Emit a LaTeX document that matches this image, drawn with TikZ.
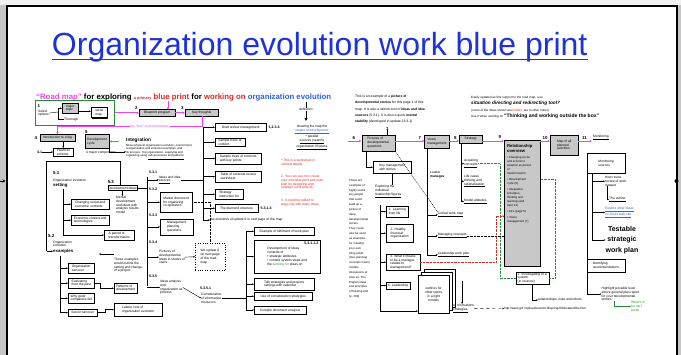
\documentclass[tikz,border=0pt]{standalone}
\usepackage{fontspec}
\setmainfont{Liberation Sans}
\newfontfamily\tf{Liberation Sans}
\usetikzlibrary{arrows.meta,shadows}
\definecolor{ttl}{RGB}{30,50,220}
\definecolor{mag}{RGB}{235,70,235}
\definecolor{gbox}{RGB}{200,200,200}
\definecolor{dgreen}{RGB}{40,140,50}
\definecolor{rtxt}{RGB}{220,40,40}
\definecolor{btxt}{RGB}{40,100,230}
\newcommand\tzs{\tf\fontsize{3.3}{3.8}\selectfont}
\newcommand\nzs{\tf\bfseries\fontsize{4.4}{4.7}\selectfont}
\newcommand\nzz{\tf\bfseries\fontsize{3.6}{4}\selectfont}
\tikzset{
 bx/.style={draw, line width=0.4pt, fill=white, inner sep=0.5pt, anchor=north west, font=\tzs, align=left,
   drop shadow={shadow xshift=0.9pt, shadow yshift=-0.9pt, fill=black, opacity=0.95}},
 gbx/.style={bx, fill=gbox},
 tx/.style={inner sep=0pt, anchor=north west, font=\tzs, align=left},
 nm/.style={inner sep=0pt, anchor=south west, font=\nzs},
 nms/.style={inner sep=0pt, anchor=south west, font=\nzz},
 ln/.style={line width=0.4pt},
 ar/.style={line width=0.4pt, -{Stealth[length=1.8pt,width=1.5pt]}},
 mg/.style={line width=0.9pt, draw=mag},
 mgar/.style={mg, -{Stealth[length=2.6pt,width=2.4pt]}},
 dt/.style={line width=0.4pt, densely dotted},
}
\begin{document}
\begin{tikzpicture}[x=1pt,y=-1pt]
\useasboundingbox (0,0) rectangle (681,355);
% ---------- slide frame ----------
\fill[gray!45] (0,0) rectangle (681,355);
\fill[gray!12] (0,0) rectangle (681,5);
\fill[white] (7,7) rectangle (675.5,355);
\draw[line width=2pt] (7,355) -- (7,6) -- (676.5,6) -- (676.5,355);
\coordinate (la0) at (0,181); \coordinate (la1) at (5.5,181);
\draw[line width=0.8pt,-{Stealth[length=3pt,width=3pt]}] (la0) -- (la1);
\fill (676.5,181) circle (2);
% ---------- title ----------
\node[anchor=base west, inner sep=0, text=ttl, font=\fontsize{32}{38}\selectfont] (title) at (51.8,56) {Organization evolution work blue print};
\draw[ttl, line width=1.3pt] ([yshift=-3.2pt]title.base west) -- ([yshift=-3.2pt]title.base east);

% ================= LEFT THUMBNAIL =================
\node[anchor=base west, inner sep=0] (lhead) at (36,99.3) {\resizebox{295pt}{!}{\tf\bfseries{\color{mag}“Road map”} for exploring {\color{rtxt}\fontsize{5}{5}\selectfont a primary} {\color{rtxt}blue print} for {\color{rtxt}working on} {\color{btxt}organization evolution}}};
\node[draw=dgreen, line width=0.6pt, minimum width=79, minimum height=25, anchor=north west, inner sep=0] (G) at (35,100.5) {};
\node[nm] (n1) at (37.5,108) {1};
\node[tx] (gsel) at (38,109.5) {Select\\ options};
\node[gbx, minimum width=16, minimum height=10] (mt) at (62,103) {major\\ topic};
\node[bx, minimum width=16, minimum height=10] (sm) at (91,107.5) {serial\\ map};
\node[tx] (gthr) at (64,117.5) {Thorough};
\coordinate (gb) at (58,112);
\draw[ln] (gsel.east) -- (gb);
\draw[ar] (gb) |- (mt.west);
\draw[ln] (gb) |- (gthr.west);
\draw[ar] ([yshift=-3pt]mt.east) -- ([yshift=-3pt]mt.east -| sm.west);
\node[gbx, minimum width=36, minimum height=6.5] (b2) at (139,109.5) {Blueprint program};
\node[nm] (n2) at (135,110) {2};
\node[gbx, minimum width=33, minimum height=6.5] (b3) at (185,109.5) {Key thoughts};
\node[nm] (n3) at (181,110) {3};
\draw[mgar] (G.east |- b2.west) -- (b2.west);
\draw[mgar] (b2.east) -- (b3.west);
\coordinate (mh) at (168,101);
\draw[mgar] (mh) -- (mh |- b2.north);
\node[gbx, minimum width=34.5, minimum height=6.5] (b4) at (40,134.5) {Introduction to a big};
\node[nm] (n4) at (34.5,140) {4};
\coordinate (mt1) at (202,126);
\draw[mgar] (b3.south -| mt1) -- (mt1) -| (b4.north);
\node[font=\tzs, text=mag, inner sep=0.5pt, fill=white] (tour) at (150,126) {the “tour” recommendation};
\node[gbx, minimum width=24.5, minimum height=13.5] (b5) at (84.5,134.5) {Development\\ cycle};
\node[nm] (n5) at (85,133.5) {5};
\coordinate (m5) at (119,141.5);
\draw[mgar] (m5) -- (b5.east);
\node[tx, font=\tf\bfseries\fontsize{4.8}{5}\selectfont] (integ) at (126,138) {Integration};
\node[tx, font=\tf\fontsize{2.9}{3.5}\selectfont] (integt) at (126,144) {Mixes physical organization evolution, environment,\\ reorganization and evolution examples, and\\ its process. Top organization, supplying and\\ organizing using \underline{sub-processes and patterns}};
\draw[ar] (b5.south east) |- (integt.west);
\node[bx, minimum width=20, minimum height=8] (b41) at (53,148) {Practical\\ scheme};
\node[inner sep=0, font=\nzz, anchor=west] (n41) at (37,152) {4.1};
\draw[ar] (n41.east) -- (n41.east -| b41.west);
\draw[ar] (b4.south -| b41.north) -- (b41.north);
\node[tx] (comp) at (86,150.5) {4 major components};
% bracket
\coordinate (lb1) at (46.5,161); \coordinate (lb2) at (120.5,161); \coordinate (lb3) at (46.5,251.2);
% 5.1
\node[nm] (n51) at (53,175) {5.1};
\node[tx] (o51) at (53,178.5) {Organization evolution};
\node[tx, font=\tf\bfseries\fontsize{4.4}{5}\selectfont] (set) at (53,183.2) {setting};
\coordinate (s0) at (63,189.5); \coordinate (s1) at (63,235);
\node[bx, minimum width=38, minimum height=10] (c1) at (71,199) {Changing social and\\ economic contexts};
\node[bx, minimum width=38, minimum height=10] (c2) at (71,215) {Economic context and\\ technologies};
\node[bx, minimum width=30, minimum height=10] (c3) at (104,230) {A period of\\ transformation};
\draw[ln] (s0) -- (s1);
\draw[ar] (s0 |- c1.west) -- (c1.west);
\draw[ar] (s0 |- c2.west) -- (c2.west);
\draw[ar] (s1) -- (s1 -| c3.west);
% 5.2
\node[nm] (n52) at (48,238) {5.2};
\node[tx] (o52) at (53,240.5) {Organization\\ evolution};
\node[tx, font=\tf\bfseries\fontsize{4.4}{5}\selectfont] (ex) at (53,249) {examples};
\draw[ln] (lb3) -- (lb1) -- (lb2);
\draw[ar] (lb3) -- (lb3 -| ex.west);
\coordinate (d0) at (60,256); \coordinate (d1) at (60,312.5);
\node[bx, minimum width=26, minimum height=10] (d1b) at (68,263) {Organization\\ turnover};
\node[bx, minimum width=26, minimum height=10] (d2b) at (68,278) {Evaluating\\ from the past};
\node[bx, minimum width=26, minimum height=10] (d3b) at (68,293) {Why good\\ companies fail};
\node[bx, minimum width=29, minimum height=7] (d4b) at (68,309) {Senior turnover};
\draw[ln] (d0) -- (d1);
\draw[ar] (d0 |- d1b.west) -- (d1b.west);
\draw[ar] (d0 |- d2b.west) -- (d2b.west);
\draw[ar] (d0 |- d3b.west) -- (d3b.west);
\draw[ar] (d0 |- d4b.west) -- (d4b.west);
\node[tx] (etx) at (114,258) {These examples\\ would outline the\\ setting and change\\ of a project};
\coordinate (ea) at (99,254);
\draw[ar] (etx.north west |- ea) -- (ea);
\node[bx, minimum width=23, minimum height=10] (e1) at (114,283) {Patterns of\\ development};
\node[bx, minimum width=48, minimum height=13] (e2) at (114,303) {Labour cost of\\ organization evolution};
\draw[ar] (d2b.east) -- ++(6,0) |- (e1.west);
\draw[ar] (d4b.east) -- ++(8,0) |- (e2.west);
% 5.3
\node[nm] (n53) at (107.6,183.5) {5.3};
\node[draw, line width=0.3pt, inner sep=0.5pt, anchor=north west, font=\tzs, minimum width=28, minimum height=5] (f53) at (107.6,185.5) {Development Ideas};
\draw[ar] (lb2) -- (lb2 |- f53.north);
\node[tx] (ment) at (116,196) {Mental\\ development\\ and ideas with\\ analysis results\\ model};
\draw[ar] (f53.south) -- (f53.south |- ment.north);
\coordinate (k0) at (147,177); \coordinate (k1) at (147,286);
\draw[ln] (f53.east) -- (f53.east -| k0);
\draw[ln] (k0) -- (k1);
\node[nms] (n531) at (149,174) {5.3.1};
\node[tx] (g1) at (158.7,175.5) {Ideas and idea\\ \underline{sources}};
\node[nms] (n532) at (149,191) {5.3.2};
\node[bx, minimum width=31.7, minimum height=20] (g2) at (160,192) {Market document\\ for organizing\\ co-operation};
\node[nms] (n533) at (149,216.5) {5.3.3};
\node[bx, minimum width=33, minimum height=16] (g3) at (160,218.7) {Management\\ planning\\ questions};
\node[nms] (n534) at (149,244) {5.3.4};
\node[tx] (g4) at (159,250) {Pictures of\\ developmental\\ ideas in stories of\\ users};
\node[nms] (n535) at (149,278) {5.3.5};
\node[tx] (g5) at (160,280) {Ideas analysis\\ and\\ organization as\\ process};
\draw[ar] (k0 |- g1.west) -- (g1.west);
\draw[ar] (k0 |- g2.west) -- (g2.west);
\draw[ar] (k0 |- g3.west) -- (g3.west);
\draw[ar] (k0 |- g4.west) -- (g4.west);
\draw[ar] (k0 |- g5.west) -- (g5.west);
\node[draw, dotted, line width=0.4pt, minimum width=30, minimum height=27, anchor=north west, font=\tzs, align=left, inner sep=0.5pt] (h) at (195,243) {We update 6\\ on next page\\ of the road\\ map};
\draw[ar] (g4.east) -- (h.west);
\draw[dt] (g2.east) -| (h.north);
\node[nms] (n5351) at (200,290) {5.3.5.1};
\node[tx] (cons) at (201,293) {Consideration\\ of information\\ resources};
\draw[ar] (g5.east) -- (cons.west);
% right column
\coordinate (r0) at (203,127); \coordinate (r1) at (203,220);
\draw[ln] (r0) -- (r1);
\node[bx, minimum width=51, minimum height=8] (r1b) at (215,123) {Draft review management};
\node[bx, minimum width=29.5, minimum height=8] (r2b) at (215,138) {Sample trees of\\ content};
\node[bx, minimum width=46, minimum height=11.4] (r3b) at (215,152.6) {Sample trees of contents\\ with key points};
\node[bx, minimum width=46, minimum height=11] (r4b) at (215,171) {Table of contents review\\ worksheet};
\node[bx, minimum width=28, minimum height=10] (r5b) at (215,189) {Strategy\\ instruction for};
\node[bx, minimum width=42.7, minimum height=8] (r6b) at (215,204) {The diamond structure};
\draw[ar] (r0 |- r1b.west) -- (r1b.west);
\draw[ar] (r0 |- r2b.west) -- (r2b.west);
\draw[ar] (r0 |- r3b.west) -- (r3b.west);
\draw[ar] (r0 |- r4b.west) -- (r4b.west);
\draw[ar] (r0 |- r5b.west) -- (r5b.west);
\draw[ar] (r0 |- r6b.west) -- (r6b.west);
\node[nms, anchor=west] (n1234) at (268.5,127) {1.2.3.4};
\node[nms, anchor=west] (n5314) at (260.5,208.5) {5.3.1.4};
\node[tx, anchor=west] (elem) at (210,220) {the elements of update 6 in next page of this map};
\draw[ar] (r1) -- (elem.west);
\draw[ln] (g1.east) -- (g1.east -| r0);
% lower right column
\coordinate (s0r) at (246,231); \coordinate (s1r) at (246,310);
\draw[ln] (s0r) -- (s1r);
\node[bx, minimum width=60, minimum height=8] (t1b) at (254,227) {Example of fulfilment of work plan};
\node[bx, minimum width=66, minimum height=33] (t2b) at (254,240) {Development of ideas\\ contexts of\\ • strategic attributes\\ • content system steps and\\ the \textcolor{dgreen}{working for} ideas on};
\node[nms, anchor=north east] (n53112) at (318.5,242) {5.3.1.1.2};
\node[bx, minimum width=60, minimum height=12] (t3b) at (254,278) {Talk strategies and projects\\ settings with calendar};
\node[bx, minimum width=58, minimum height=8] (t4b) at (254,292) {Use of consideration strategies};
\node[bx, minimum width=51.6, minimum height=8] (t5b) at (254,306) {Compile document analysis};
\draw[ar] (s0r |- t1b.west) -- (t1b.west);
\draw[ar] (s0r |- t2b.west) -- (t2b.west);
\draw[ar] (s0r |- t3b.west) -- (t3b.west);
\draw[ar] (s0r |- t4b.west) -- (t4b.west);
\draw[ar] (s1r) -- (s1r -| t5b.west);
\draw[ln] (cons.east) -- (cons.east -| s0r);
% far right notes
\node[tx, anchor=north] (defn) at (306,108) {definition};
\coordinate (dtop) at (306,102); \coordinate (dbot) at (306,121);
\draw[ln] (dtop) -- (defn.north);
\draw[line width=0.7pt, -{Triangle[length=3pt,width=3pt]}] (defn.south) -- (dbot);
\node[tx, anchor=north, align=center] (show) at (312,125) {showing the map the\\ \textcolor{btxt}{\underline{stages of development}}\\ * parallel\\ \underline{sources (search)}\\ \underline{organization fill plans}};
\node[tx, text=rtxt] (red1) at (281,159) {* This is a worksheet in\\ several details};
\node[tx, text=rtxt] (red2) at (281,175) {2. You can use it to create\\ your own blue print and work\\ plan for designing and\\ strategic work plan (6)};
\node[tx, text=rtxt] (red3) at (281,199) {3. It could be edited to\\ ways city with basic ideas};

% ================= RIGHT THUMBNAIL =================
\node[tx, font=\tf\fontsize{3.4}{6.3}\selectfont] (rp1) at (355,95) {This is an example of a \textbf{picture of}\\ \textbf{developmental stories} for this page 1 of this\\ map. It is also a sketch-tool of \textbf{ideas and idea}\\ \textbf{sources} (5.3.1). It is also a quick \textbf{mental}\\ \textbf{stability} (developed in update 13.3.1)};
\node[tx, font=\tf\fontsize{3.1}{6.5}\selectfont] (rp2) at (471,96) {Easily updated as first support to the road map, a so\\ {\bfseries\itshape\fontsize{4.7}{6.5}\selectfont situation directing and redirecting tool?}\\ (some of the ideas shown are \textcolor{rtxt}{hidden}, are in other notes)\\ Use it when working on {\bfseries\fontsize{5}{6.5}\selectfont “Thinking and working outside the box”}};
\coordinate (m0) at (348,141); \coordinate (m1) at (592,141);
\node[gbx, minimum width=33, minimum height=16] (p6) at (361.5,134.7) {Pictures of\\ developmental\\ questions};
\node[gbx, minimum width=24.6, minimum height=13] (p7) at (424.4,134.7) {Vision\\ management};
\node[gbx, minimum width=23, minimum height=8.3] (p8) at (459,134.7) {Strategy};
\node[gbx, minimum width=36, minimum height=126] (p9) at (504,139.6) {};
\node[tx, font=\tf\bfseries\fontsize{4.2}{5}\selectfont] (p9h) at (507,144) {Relationship\\ overview};
\node[tx, font=\tf\fontsize{2.9}{4}\selectfont] (p9t) at (507,156) {• Changing social\\ and economic\\ situation as period\\ of\\ transformation\\[2pt] • Development\\ cycle (5)\\[2pt] • Integration\\ principles,\\ thinking and\\ learning (and\\ topic 11)\\[2pt] • KJ's (page 5)\\[2pt] • Vision\\ management (7)};
\node[gbx, minimum width=28, minimum height=20] (p10) at (550,134.7) {Map of all\\ planned\\ activities};
\node[nm] (n6) at (352.5,139.5) {6};
\node[nm] (n7) at (418.5,139.5) {7};
\node[nm] (n8) at (454,139.5) {8};
\node[nm] (n9) at (498.5,139) {9};
\node[nm] (n10) at (542.5,139.5) {10};
\node[nm] (n11) at (582,139.5) {11};
\node[nm] (n61) at (386,130.5) {1};
\draw[ln] (n61.south) -- (n61.south |- p6.north);
\draw[mgar] (m0) -- (m0 -| p6.west);
\draw[mgar] (p6.east |- m0) -- (m0 -| p7.west);
\draw[mgar] (p7.east |- m0) -- (m0 -| p8.west);
\draw[mgar] (p8.east |- m0) -- (m0 -| p9.west);
\draw[mgar] (p9.east |- m0) -- (m0 -| p10.west);
\draw[mgar] (p10.east |- m0) -- (m1);
\node[tx, anchor=south west] (mon) at (593,140) {\underline{Monitoring}};
% under 6
\coordinate (q0) at (366,151);
\node[bx, minimum width=38, minimum height=12] (q1) at (373,161) {Key management\\ with stories};
\draw[ar] (p6.south -| q0) |- (q1.west);
\node[tx] (expl) at (375,185) {Exploring the\\ individual\\ \underline{leadership figures}};
\draw[ln] (q1.south) -- (q1.south |- expl.north);
% under 7
\node[tx] (lman) at (430,171) {Leader\\ \textbf{manages}};
\node[tx] (t1) at (437.7,212) {\underline{Critical work map}};
\node[tx] (t2) at (437.7,233) {\underline{Managing concepts}};
\node[tx] (t3) at (437.7,252) {\underline{Leadership work plan}};
\coordinate (u0) at (427,148);
\draw[ln] (p7.south -| u0) -- (u0 |- t3.west);
\draw[ar] (u0 |- t1.west) -- (t1.west);
\draw[ar] (u0 |- t2.west) -- (t2.west);
\draw[ar] (u0 |- t3.west) -- (t3.west);
\draw[ln, dash pattern=on 1pt off 0.8pt] (p6.south east) -- (t1.north west);
% under 8
\node[tx] (u1) at (464,159) {Acquiring\\ \underline{concepts}};
\node[tx] (u2) at (464,175) {Life cases\\ thinking and\\ \underline{rationalization}};
\node[tx] (u3) at (464,199) {\underline{Model attitudes}};
\coordinate (v0) at (461,143);
\draw[ln] (p8.south -| v0) -- (v0 |- u3.west);
\draw[ar] (v0 |- u1.west) -- (u1.west);
\draw[ar] (v0 |- u2.west) -- (u2.west);
\draw[ar] (v0 |- u3.west) -- (u3.west);
% left paragraph
\node[tx, font=\tf\fontsize{2.9}{4.85}\selectfont] (lpar) at (349,179) {These are\\ examples of\\ highly useful\\ key people\\ that could\\ build up a\\ picture of\\ deep\\ developmental\\ stories.\\ They could\\ also be used\\ as examples\\ for creating\\ your own\\ thing (what\\ does planning\\ concepts mean)\\ models\\ discussions at\\ sites as. The\\ English ideas\\ and principles\\ of thinking and\\ (p. 260)};
% leadership boxes
\coordinate (w0) at (380,205); \coordinate (w1) at (380,311);
\node[bx, minimum width=22, minimum height=11] (v1) at (386,206) {1. Learning\\ from life};
\node[bx, minimum width=27, minimum height=18] (v2) at (386,224) {2. Healthy\\ financial\\ organization};
\node[bx, minimum width=33.5, minimum height=16] (v3) at (386,254) {3. What it means\\ to be a manager\\ related to\\ management?};
\node[bx, minimum width=23.5, minimum height=6.6] (v4) at (386,282) {4. Leadership};
\draw[ln] (w0) -- (w1);
\draw[ar] (w0 |- v1.west) -- (v1.west);
\draw[ar] (w0 |- v2.west) -- (v2.west);
\draw[ar] (w0 |- v3.west) -- (v3.west);
\draw[ar] (w0 |- v4.west) -- (v4.west);
% document stack
\node[draw, line width=0.4pt, fill=white, minimum width=31, minimum height=38, anchor=north west] (pgb) at (424,269) {};
\node[draw, line width=0.4pt, fill=white, minimum width=31, minimum height=38, anchor=north west] (pgm) at (421,272) {};
\node[bx, minimum width=31, minimum height=38, align=center] (stack) at (418,275) {outlines for\\ other topics\\ in a right\\ models};
\draw[ar] (w1) -- (w1 -| stack.west);
\node[tx] (ainn) at (453,304) {A. Innovations\\ \underline{strategies}};
\coordinate (a0) at (462,281);
\draw[ar] (a0) -- (a0 |- ainn.north);
\node[tx, anchor=west, font=\tf\fontsize{3.1}{3.5}\selectfont] (url) at (504,308.5) {http://www.gvf.org/leaderwork/rdkspring2003/stateofthe.htm};
\draw[ar, dashed] (ainn.east) -- (url.west);
% dotted links
\coordinate (rd0) at (496,216);
\draw[dt, draw=rtxt, -{Stealth[length=1.8pt,width=1.5pt]}] (v3.east) -| (rd0) -- (rd0 -| p9.west);
\node[bx, minimum width=33, minimum height=11.6] (xbox) at (515.5,272) {1. Investigating of a\\ system\\ (in sources)};
\coordinate (gd0) at (500,162);
\draw[dt, draw=dgreen] (u1.east) -- (u1.east -| gd0) |- (xbox.west);
\coordinate (gd1) at (555,179);
\draw[dt, draw=dgreen] (xbox.east) -| (gd1) -- (gd1 -| p9.east);
\draw[dt] (t2.east) -- (t2.east -| p9.west);
\node[tx, anchor=west] (rel) at (538,300) {relationships, risks and others};
\draw[ar] (xbox.south) |- (rel.west);
% right column
\node[bx, minimum width=37.8, minimum height=20] (y1) at (587,153) {Monitoring\\ sources};
\node[bx, minimum width=38, minimum height=13] (y2) at (586.7,259) {Identifying\\ recommendations};
\coordinate (ya) at (587,173); \coordinate (yb) at (592,173);
\draw[ln] (ya) -- (ya |- y2.north);
\node[tx] (i1) at (605,176) {How revise\\ review of work\\ dataset};
\node[tx] (i2) at (609,197) {\underline{The outline}};
\node[tx, text=btxt] (i3) at (605,207) {\underline{Explore other ideas}\\ \underline{on God's web site}};
\node[align=center, inner sep=0, font=\tf\bfseries\fontsize{7}{10.3}\selectfont] (tsp) at (622,240) {Testable\\ strategic\\ work plan};
\draw[ar] (yb) |- (tsp.west);
\draw[ar] (yb |- i1.west) -- (i1.west);
\draw[ar] (yb |- i3.west) -- (i3.west);
\draw[ar] ([xshift=2pt]i1.south west) |- (i2.west);
\node[tx] (hl) at (601.5,287) {Highlight possible level\\ above general plan report\\ for your developmental\\ stories};
\draw[ar] (y2.south -| ya) |- (hl.west);
\node[tx, text=dgreen] (wim) at (631,301) {What's in\\ for me?\\ (end)};
\draw[ar, draw=dgreen] ([xshift=-6pt]hl.south) |- (wim.west);
\end{tikzpicture}
\end{document}
